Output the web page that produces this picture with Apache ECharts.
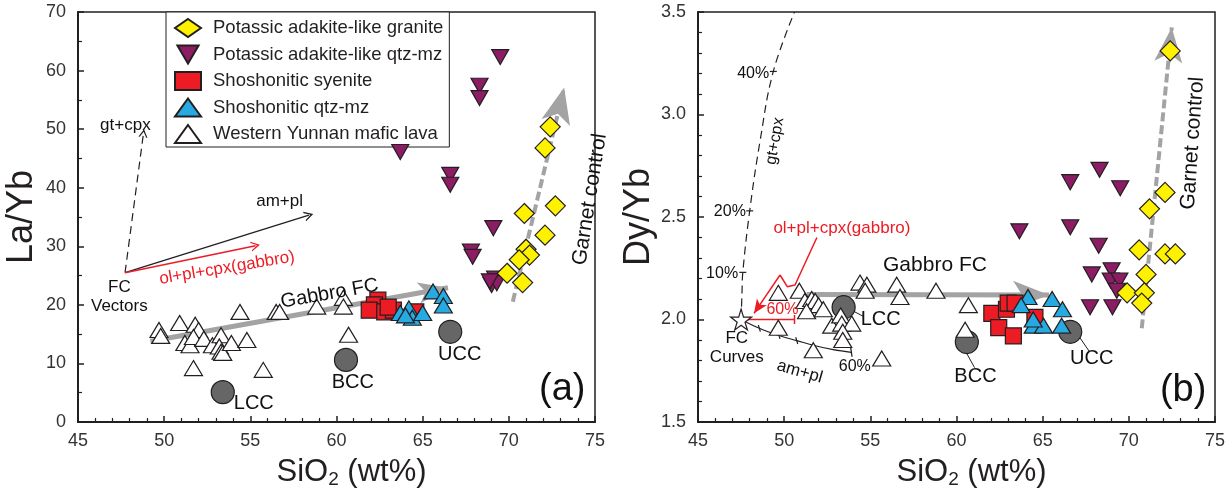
<!DOCTYPE html>
<html><head><meta charset="utf-8">
<script src="https://cdn.jsdelivr.net/npm/echarts/dist/echarts.min.js"></script>
<style>html,body{margin:0;padding:0;background:#fff}#c{width:1230px;height:495px}</style>
</head><body><div id="c"></div>
<script>
// ---------------- data (SiO2 wt%, ratio) ----------------
const seriesNames = ['Potassic adakite-like granite','Potassic adakite-like qtz-mz','Shoshonitic syenite','Shoshonitic qtz-mz','Western Yunnan mafic lava'];
const crustNames = ['LCC','BCC','UCC'];

// Panel (a): La/Yb
const granite_LaYb = [[72.4,50.4],[72.1,46.8],[72.7,36.9],[70.9,35.6],[72.1,31.9],[71.0,29.5],[71.2,28.5],[70.6,27.7],[69.9,25.4],[70.8,23.8]];
const qtzmz_LaYb = [[69.5,62.3],[68.3,57.4],[68.3,55.3],[63.7,46.1],[66.6,42.2],[66.6,40.5],[69.1,33.1],[67.8,29.1],[67.9,28.2],[69.2,24.5],[69.0,23.4],[69.3,23.7],[68.9,24.0]];
const syenite_LaYb = [[62.4,20.8],[62.2,20.0],[61.9,19.1],[62.8,18.8],[63.3,19.1],[63.0,19.6],[64.6,18.8]];
const shoQtz_LaYb = [[65.6,22.3],[66.2,21.5],[66.2,19.9],[64.2,19.4],[63.7,18.6],[64.4,17.8],[65.0,18.6],[64.0,18.2]];
const lava_LaYb = [[49.7,15.7],[49.8,14.7],[50.9,16.9],[51.8,16.6],[52.0,15.7],[51.2,13.5],[51.5,13.1],[51.7,14.5],[52.3,14.2],[52.8,13.1],[53.3,14.8],[53.2,12.9],[53.3,12.0],[53.4,11.8],[53.9,13.5],[54.8,14.0],[54.4,18.8],[51.7,9.2],[55.75,8.9],[56.5,18.8],[56.7,18.8],[58.85,19.7],[60.4,21.2],[60.4,19.7],[60.7,14.9]];
const crust_LaYb = [[53.4,5.1],[60.55,10.6],[66.6,15.4]];

// Panel (b): Dy/Yb
const granite_DyYb = [[72.4,3.31],[72.1,2.62],[71.2,2.54],[70.6,2.34],[72.1,2.32],[72.7,2.32],[71.0,2.22],[69.9,2.13],[70.9,2.13],[70.75,2.08]];
const qtzmz_DyYb = [[68.3,2.73],[66.6,2.67],[69.5,2.64],[66.6,2.45],[63.65,2.43],[68.25,2.36],[67.85,2.22],[69.0,2.24],[68.95,2.19],[69.45,2.19],[69.3,2.14],[67.75,2.06],[69.05,2.06]];
const syenite_DyYb = [[62.05,2.03],[62.9,2.05],[63.0,2.08],[63.4,2.08],[62.45,1.96],[63.3,1.92],[64.55,2.01]];
const shoQtz_DyYb = [[64.15,2.11],[63.75,2.07],[65.55,2.10],[66.15,2.05],[64.45,1.97],[65.05,1.97],[66.1,1.97],[64.45,2.0]];
const lava_DyYb = [[49.66,2.13],[50.88,2.14],[51.2,2.09],[51.6,2.10],[51.8,2.09],[52.0,2.07],[51.3,2.04],[52.27,2.05],[52.76,1.97],[53.28,2.02],[53.34,1.98],[53.92,1.98],[53.4,1.94],[53.4,1.90],[49.66,1.96],[51.69,1.85],[55.66,1.81],[54.4,2.18],[54.8,2.17],[54.7,2.14],[56.53,2.17],[56.72,2.11],[58.81,2.14],[60.69,2.07],[60.5,1.95]];
const crust_DyYb = [[53.45,2.06],[60.6,1.89],[66.6,1.94]];

// Model vectors / curves
const fcOrigin_LaYb = [47.73,25.5];
const vec_gtcpx_LaYb = [48.8,49.3];
const vec_ampl_LaYb = [58.4,35.3];
const vec_gabbro_LaYb = [55.3,30.1];
const gabbroFC_LaYb = [[49.2,13.8],[66.47,22.93]];
const garnet_LaYb = [[70.23,20.54],[73.21,57.11]];

const fcStar_DyYb = [47.5,2.0];
const curve_gtcpx_DyYb = [[47.5,2.0],[47.55,2.12],[47.6,2.23],[48.0,2.53],[48.6,2.87],[49.37,3.21],[50.6,3.5]];
const ticks_gtcpx_DyYb = [[47.6,2.23],[48.0,2.53],[49.37,3.21]];
const curve_ampl_DyYb = [[47.5,2.0],[48.56,1.957],[49.7,1.922],[50.73,1.897],[51.8,1.872],[52.85,1.853],[53.9,1.84]];
const ticks_ampl_DyYb = [[48.56,1.957],[49.7,1.922],[50.73,1.897]];
const curve_gabbro_DyYb = [[47.7,2.0],[50.6,2.0]];
const callout_DyYb = [[51.9,2.40],[51.35,2.30],[50.63,2.168],[50.18,2.16],[49.76,2.217]];
const callout_tip_DyYb = [48.25,2.03];
const gabbroFC_DyYb = [[51.31,2.122],[65.37,2.12]];
const garnet_DyYb = [[70.75,1.957],[72.49,3.425]];
const leaders_DyYb = [[[53.9,2.046],[54.6,2.015]],[[60.55,1.841],[61.05,1.765]],[[67.17,1.91],[67.7,1.845]]];

// ---------------- styles ----------------
const FONT = '"Liberation Sans", Arial, Helvetica, sans-serif';
const INK = '#231F20';
const RED = '#ED1C24';
const GREY = '#A3A3A3';
const DOWN_TRI = 'path://M0,0L20,0L10,17Z';
const STAR = 'path://M50,0L61,35L98,35L68,57L79,91L50,70L21,91L32,57L2,35L39,35Z';
const CHEVRON = 'path://M0,10L5,0L10,10L8.6,10L5,3.2L1.4,10Z';

const annotA = [
  {t:'gt+cpx', x:47.75, y:50.7, s:17},
  {t:'am+pl', x:56.7, y:37.6, s:17},
  {t:'ol+pl+cpx(gabbro)', x:53.65, y:26.3, s:17, r:9.5, c:RED},
  {t:'FC\nVectors', x:47.4, y:21.3, s:17},
  {t:'Gabbro FC', x:59.6, y:21.9, s:20, r:10},
  {t:'Garnet control', x:74.7, y:38.0, s:21, r:81},
  {t:'LCC', x:55.2, y:3.2, s:20},
  {t:'BCC', x:60.95, y:6.7, s:20},
  {t:'UCC', x:67.15, y:11.6, s:20},
  {t:'(a)', x:73.1, y:5.6, s:38}
];
const annotB = [
  {t:'40%', x:48.2, y:3.2, s:16},
  {t:'20%', x:46.85, y:2.525, s:16},
  {t:'10%', x:46.4, y:2.225, s:16},
  {t:'gt+cpx', x:49.47, y:2.87, s:16, r:80},
  {t:'ol+pl+cpx(gabbro)', x:53.35, y:2.445, s:17, c:RED},
  {t:'60%', x:49.9, y:2.046, s:16, c:RED},
  {t:'FC\nCurves', x:47.25, y:1.863, s:17},
  {t:'am+pl', x:50.9, y:1.745, s:17, r:-16},
  {t:'60%', x:54.1, y:1.77, s:16},
  {t:'Gabbro FC', x:58.75, y:2.266, s:21},
  {t:'LCC', x:55.6, y:1.998, s:20},
  {t:'BCC', x:61.1, y:1.721, s:20},
  {t:'UCC', x:67.85, y:1.81, s:20},
  {t:'Garnet control', x:73.7, y:2.86, s:21, r:86},
  {t:'(b)', x:73.15, y:1.655, s:38}
];

function axisX(gi){
  return {gridIndex:gi, type:'value', min:45, max:75, interval:5,
    name:'SiO{s|2} (wt%)', nameLocation:'middle', nameGap:33,
    nameTextStyle:{fontFamily:FONT, fontSize:31, color:INK, padding:[0,0,0,30],
      rich:{s:{fontFamily:FONT, fontSize:19, color:INK, padding:[15,0,0,0]}}},
    axisLine:{show:true, onZero:false, lineStyle:{color:INK, width:2}},
    axisTick:{show:true, inside:true, length:6, lineStyle:{color:INK, width:1.5}},
    minorTick:{show:true, splitNumber:5, length:4, lineStyle:{color:INK, width:1.2}},
    splitLine:{show:false},
    axisLabel:{fontFamily:FONT, fontSize:18, color:'#333', margin:10}};
}
function axisY(gi, o){
  return Object.assign({gridIndex:gi, type:'value', nameLocation:'middle', nameGap:38,
    nameTextStyle:{fontFamily:FONT, fontSize:36, color:INK},
    axisLine:{show:true, onZero:false, lineStyle:{color:INK, width:2}},
    axisTick:{show:true, inside:true, length:6, lineStyle:{color:INK, width:1.5}},
    minorTick:{show:true, length:4, lineStyle:{color:INK, width:1.2}},
    splitLine:{show:false}}, o);
}

function pts(gi, name, data, symbol, size, color, z){
  return {type:'scatter', name, xAxisIndex:gi, yAxisIndex:gi, data, symbol, symbolSize:size, z,
    itemStyle:{color, borderColor:INK, borderWidth:1.2, opacity:1}, silent:true, animation:false};
}
function annot(gi, list){
  return {type:'scatter', xAxisIndex:gi, yAxisIndex:gi, symbolSize:0, silent:true, z:20, animation:false,
    itemStyle:{opacity:1},
    data:list.map(a=>({value:[a.x,a.y], name:a.t,
      label:{show:true, position:'inside', formatter:'{b}', rotate:a.r||0, align:'center', verticalAlign:'middle', opacity:1,
        fontFamily:FONT, fontSize:a.s, color:a.c||'#111', textBorderWidth:0, lineHeight:Math.round(a.s*1.1)}}))};
}
function lineS(gi, data, color, width, type, z, smooth){
  return {type:'line', xAxisIndex:gi, yAxisIndex:gi, data, symbol:'none', smooth:smooth||false, z:z||3, silent:true, animation:false,
    lineStyle:{color, width, type:type||'solid'}};
}
function arrowML(from, to, color, width, type, sym, size){
  return [{coord:from, symbol:'none', lineStyle:{color, width, type}},
          {coord:to, symbol:sym, symbolSize:size, lineStyle:{color, width, type}}];
}
function marks(gi, lines, z){
  return {type:'line', xAxisIndex:gi, yAxisIndex:gi, data:[], z:z, silent:true, animation:false,
    markLine:{silent:true, animation:false, label:{show:false}, emphasis:{disabled:true}, data:lines}};
}
function tickMarks(gi, data, size, rot){
  return {type:'scatter', xAxisIndex:gi, yAxisIndex:gi, data, symbol:'rect', symbolSize:size, symbolRotate:rot||0, z:4, silent:true, animation:false,
    itemStyle:{color:INK, opacity:1}};
}

const series = [
  // panel a
  marks(0, [
    arrowML(gabbroFC_LaYb[0], gabbroFC_LaYb[1], GREY, 5, 'solid', 'arrow', [16,30]),
    arrowML(garnet_LaYb[0], garnet_LaYb[1], GREY, 4, [9,4], 'arrow', [22,36]),
    arrowML(fcOrigin_LaYb, vec_gtcpx_LaYb, INK, 1.2, [8,5], CHEVRON, [9,8]),
    arrowML(fcOrigin_LaYb, vec_ampl_LaYb, INK, 1.3, 'solid', CHEVRON, [10,9]),
    arrowML(fcOrigin_LaYb, vec_gabbro_LaYb, RED, 1.5, 'solid', CHEVRON, [10,9])
  ], 2),
  pts(0, 'crust', crust_LaYb, 'circle', 23, '#666666', 5),
  pts(0, seriesNames[4], lava_LaYb, 'triangle', [18,15], '#ffffff', 6),
  pts(0, seriesNames[2], syenite_LaYb, 'rect', 16, RED, 7),
  pts(0, seriesNames[3], shoQtz_LaYb, 'triangle', [18,15], '#27AAE1', 8),
  pts(0, seriesNames[1], qtzmz_LaYb, DOWN_TRI, [17,15], '#8C1D64', 9),
  pts(0, seriesNames[0], granite_LaYb, 'diamond', [20,20], '#FFF200', 10),
  annot(0, annotA),
  // panel b
  marks(1, [
    arrowML(gabbroFC_DyYb[0], gabbroFC_DyYb[1], GREY, 5, 'solid', 'arrow', [21,36]),
    arrowML(garnet_DyYb[0], garnet_DyYb[1], GREY, 4, [9,4], 'arrow', [21,35]),
    arrowML(callout_DyYb[callout_DyYb.length-1], callout_tip_DyYb, RED, 1.5, 'solid', 'arrow', [9,14]),
    ...leaders_DyYb.map(l=>arrowML(l[0], l[1], INK, 1, 'solid', 'none', 0))
  ], 2),
  lineS(1, curve_gtcpx_DyYb, INK, 1.2, [8,5], 3, 0.4),
  lineS(1, curve_ampl_DyYb, INK, 1.2, 'solid', 3, 0.4),
  lineS(1, curve_gabbro_DyYb, RED, 1.5, 'solid', 3),
  lineS(1, callout_DyYb, RED, 1.5, 'solid', 3),
  tickMarks(1, ticks_gtcpx_DyYb, [7,1.2]),
  tickMarks(1, ticks_ampl_DyYb, [1.2,7], 17),
  tickMarks(1, [curve_ampl_DyYb[curve_ampl_DyYb.length-1]], [1.3,9], 8),
  {type:'scatter', xAxisIndex:1, yAxisIndex:1, data:[curve_gabbro_DyYb[1]], symbol:'rect', symbolSize:[1.5,9], z:4, silent:true, animation:false, itemStyle:{color:RED, opacity:1}},
  pts(1, 'crust', crust_DyYb, 'circle', 23, '#666666', 5),
  pts(1, seriesNames[4], lava_DyYb, 'triangle', [18,15], '#ffffff', 6),
  pts(1, seriesNames[2], syenite_DyYb, 'rect', 16, RED, 7),
  pts(1, seriesNames[3], shoQtz_DyYb, 'triangle', [18,15], '#27AAE1', 8),
  pts(1, seriesNames[1], qtzmz_DyYb, DOWN_TRI, [17,15], '#8C1D64', 9),
  pts(1, seriesNames[0], granite_DyYb, 'diamond', [20,20], '#FFF200', 10),
  pts(1, 'star', [fcStar_DyYb], STAR, 21, '#ffffff', 11),
  annot(1, annotB)
];

const chart = echarts.init(document.getElementById('c'), null, {renderer:'canvas'});
chart.setOption({
  animation:false,
  backgroundColor:'#fff',
  grid:[
    {left:78, top:12, width:517, height:410, show:true, borderColor:INK, borderWidth:1.5, backgroundColor:'transparent', containLabel:false},
    {left:698, top:12, width:517, height:410, show:true, borderColor:INK, borderWidth:1.5, backgroundColor:'transparent', containLabel:false}
  ],
  xAxis:[axisX(0), axisX(1)],
  yAxis:[
    axisY(0, {min:0, max:70, interval:10, name:'La/Yb', minorTick:{show:true, splitNumber:2, length:4, lineStyle:{color:INK, width:1.2}},
      axisLabel:{fontFamily:FONT, fontSize:18, color:'#333', margin:12}}),
    axisY(1, {min:1.5, max:3.5, interval:0.5, name:'Dy/Yb', minorTick:{show:true, splitNumber:5, length:4, lineStyle:{color:INK, width:1.2}},
      axisLabel:{fontFamily:FONT, fontSize:18, color:'#333', margin:12, formatter:v=>v.toFixed(1)}})
  ],
  legend:{
    data:seriesNames, left:166, top:12, orient:'vertical', itemWidth:26, itemHeight:18, itemGap:6.5,
    padding:[6,6,3,8], borderColor:INK, borderWidth:1, backgroundColor:'#fff', selectedMode:false,
    textStyle:{fontFamily:FONT, fontSize:18.5, lineHeight:18, color:INK, padding:[0,0,0,7]}
  },
  series
});
</script>
</body></html>
